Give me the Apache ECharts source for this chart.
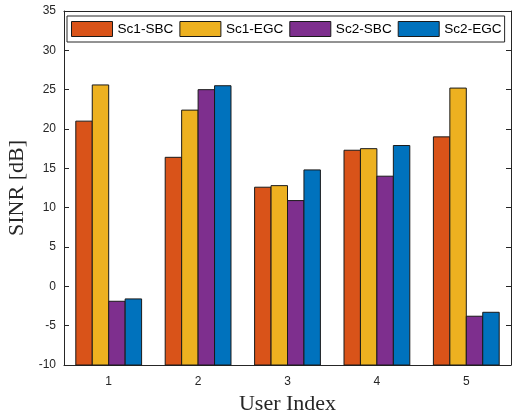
<!DOCTYPE html>
<html>
<head>
<meta charset="utf-8">
<script src="https://cdn.jsdelivr.net/npm/echarts@6/dist/echarts.min.js"></script>
<style>
  html, body { margin: 0; padding: 0; background: #fff; }
  #chart { width: 512px; height: 411px; }
</style>
</head>
<body>
<div id="chart"></div>
<script>
// User indices on the x axis
const users = ['1', '2', '3', '4', '5'];

// SINR per user, in dB, for each scheme
const sc1SBC = [21.0, 16.4, 12.6, 17.3, 19.0];
const sc1EGC = [25.6, 22.4, 12.8, 17.5, 25.2];
const sc2SBC = [-1.9, 25.0, 10.9, 14.0, -3.8];
const sc2EGC = [-1.6, 25.5, 14.8, 17.9, -3.3];

const seriesNames = ['Sc1-SBC', 'Sc1-EGC', 'Sc2-SBC', 'Sc2-EGC'];
const seriesData = [sc1SBC, sc1EGC, sc2SBC, sc2EGC];
const seriesColors = ['#D95319', '#EDB120', '#7E2F8E', '#0072BD'];

// y-axis range and step
const yMin = -10, yMax = 35, yStep = 5;

const axisColor = '#262626';
const edgeColor = '#1a1a1a';
const tickFont = { fontFamily: 'Liberation Sans, Arial, sans-serif', fontSize: 12, color: axisColor };
const nameFont = { fontFamily: 'Liberation Serif, Times New Roman, serif', fontSize: 22, color: axisColor };

// share of each category band taken by one group of bars
const groupFraction = 0.736;

const chart = echarts.init(document.getElementById('chart'), null, { renderer: 'canvas' });

// Grouped bars that rise from the bottom of the value axis (yMin), not from zero
function makeBarRenderer(seriesIndex, nSeries, color) {
  return function (params, api) {
    const cat = api.value(0);
    const val = api.value(1);
    const band = api.size([1, 0])[0];
    const barW = band * groupFraction / nSeries;
    const base = api.coord([cat, yMin]);
    const top = api.coord([cat, val]);
    const x = base[0] - (band * groupFraction) / 2 + seriesIndex * barW;
    return {
      type: 'rect',
      shape: { x: x, y: top[1], width: barW, height: base[1] - top[1] },
      style: { fill: color, stroke: edgeColor, lineWidth: 1 }
    };
  };
}

const option = {
  animation: false,
  backgroundColor: '#ffffff',
  grid: { left: 64, top: 11, width: 447, height: 354, containLabel: false, outerBoundsMode: 'none' },
  legend: {
    data: seriesNames.map((n, i) => ({
      name: n,
      icon: 'rect',
      itemStyle: { color: seriesColors[i], borderColor: edgeColor, borderWidth: 1 }
    })),
    left: 67,
    top: 16,
    width: 445,
    orient: 'horizontal',
    itemWidth: 41,
    itemHeight: 15,
    itemGap: 6,
    padding: [5, 3, 5, 4],
    backgroundColor: '#ffffff',
    borderColor: axisColor,
    borderWidth: 1,
    borderRadius: 0,
    textStyle: { fontFamily: 'Liberation Sans, Arial, sans-serif', fontSize: 13.6, color: '#000' }
  },
  xAxis: [
    {
      type: 'category',
      data: users,
      position: 'bottom',
      name: 'User Index',
      nameLocation: 'middle',
      nameGap: 26,
      nameTextStyle: nameFont,
      axisLine: { onZero: false, lineStyle: { color: axisColor, width: 1 } },
      axisTick: { inside: true, alignWithLabel: true, interval: 0, length: 5, lineStyle: { color: axisColor } },
      axisLabel: Object.assign({ margin: 11, interval: 0 }, tickFont),
      splitLine: { show: false }
    },
    {
      type: 'category',
      data: users,
      position: 'top',
      axisLine: { onZero: false, lineStyle: { color: axisColor, width: 1 } },
      axisTick: { inside: true, alignWithLabel: true, interval: 0, length: 5, lineStyle: { color: axisColor } },
      axisLabel: { show: false },
      splitLine: { show: false }
    }
  ],
  yAxis: [
    {
      type: 'value',
      min: yMin,
      max: yMax,
      interval: yStep,
      position: 'left',
      name: 'SINR [dB]',
      nameLocation: 'middle',
      nameGap: 36,
      nameTextStyle: nameFont,
      axisLine: { show: true, onZero: false, lineStyle: { color: axisColor, width: 1 } },
      axisTick: { show: true, inside: true, length: 5, lineStyle: { color: axisColor } },
      axisLabel: Object.assign({ margin: 8 }, tickFont),
      splitLine: { show: false }
    },
    {
      type: 'value',
      min: yMin,
      max: yMax,
      interval: yStep,
      position: 'right',
      axisLine: { show: true, onZero: false, lineStyle: { color: axisColor, width: 1 } },
      axisTick: { show: true, inside: true, length: 5, lineStyle: { color: axisColor } },
      axisLabel: { show: false },
      splitLine: { show: false }
    }
  ],
  series: seriesNames.map((name, i) => ({
    name: name,
    type: 'custom',
    xAxisIndex: 0,
    yAxisIndex: 0,
    renderItem: makeBarRenderer(i, seriesNames.length, seriesColors[i]),
    encode: { x: 0, y: 1 },
    itemStyle: { color: seriesColors[i], borderColor: edgeColor, borderWidth: 1 },
    data: seriesData[i].map((v, k) => [k, v])
  }))
};

chart.setOption(option);
</script>
</body>
</html>
